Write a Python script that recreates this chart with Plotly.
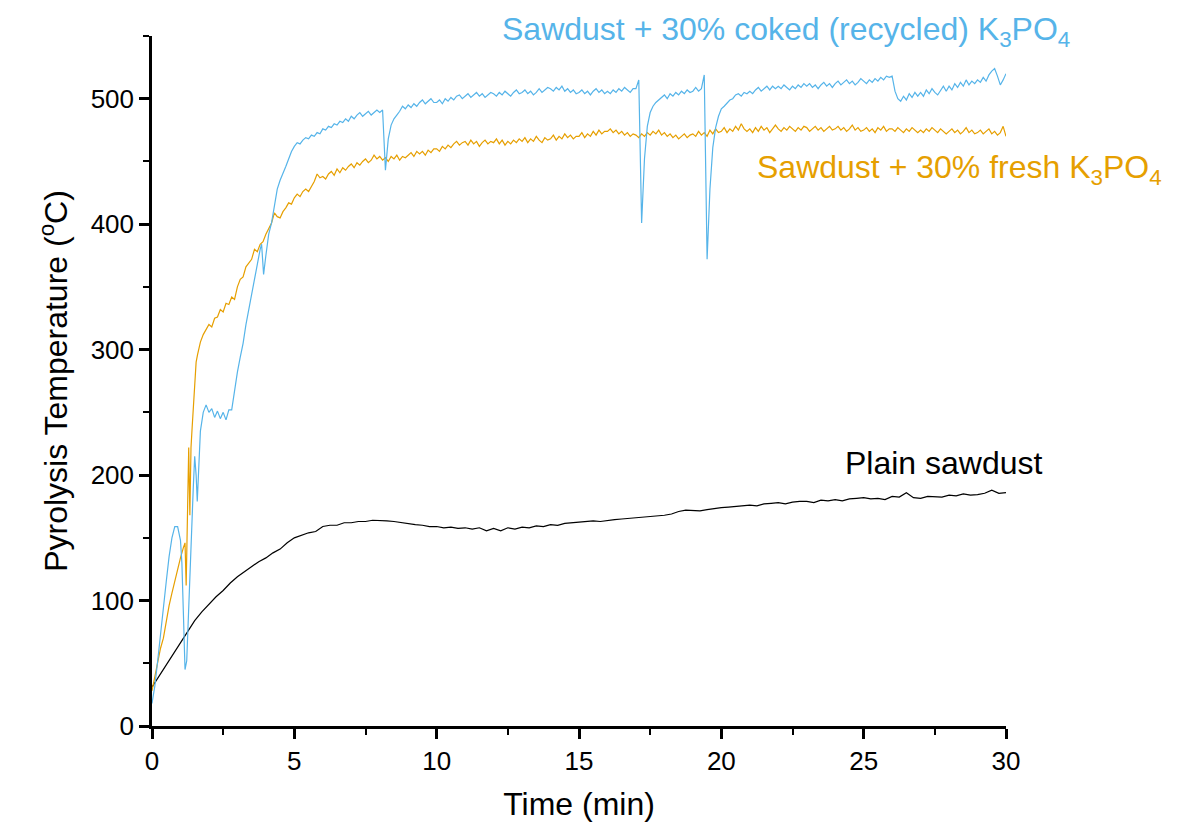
import plotly.graph_objects as go

# ---- Sawdust + 30% coked (recycled) K3PO4 : start-up phase (irregular sampling)
coked_time_start = [0.0, 0.1, 0.2, 0.3, 0.4, 0.5, 0.6, 0.7, 0.8, 0.9, 1.0,
                    1.05, 1.1, 1.16, 1.22, 1.28, 1.34, 1.4, 1.45, 1.5, 1.55, 1.59, 1.64,
                    1.7, 1.8, 1.9, 2.0, 2.1, 2.2, 2.3, 2.4, 2.5, 2.6, 2.7, 2.8, 2.9, 3.0,
                    3.1, 3.2, 3.3, 3.4, 3.5, 3.6, 3.7, 3.8, 3.85, 3.92,
                    4.0, 4.1, 4.2, 4.3, 4.4, 4.5, 4.6, 4.7, 4.8, 4.9]
coked_temp_start = [18, 32, 52, 75, 96, 115, 135, 150, 159, 159, 148,
                    130, 92, 45, 52, 92, 128, 160, 190, 215, 200, 179, 205,
                    235, 250, 256, 250, 253, 246, 251, 245, 250, 244, 252, 252, 268, 282,
                    294, 305, 320, 332, 345, 358, 370, 380, 384, 360,
                    375, 392, 401, 415, 428, 435, 440, 446, 452, 458]

# ---- Sawdust + 30% fresh K3PO4 : start-up phase
fresh_time_start = [0.0, 0.1, 0.2, 0.3, 0.4, 0.5, 0.6, 0.7, 0.8, 0.9, 1.0, 1.1,
                    1.16, 1.2, 1.24, 1.29, 1.33, 1.37, 1.41, 1.46, 1.5, 1.55, 1.6,
                    1.7, 1.8, 1.9, 2.0, 2.1, 2.2, 2.3, 2.4, 2.5, 2.6, 2.7, 2.8, 2.9, 3.0,
                    3.1, 3.2, 3.3, 3.4, 3.5, 3.6, 3.7, 3.8, 3.9, 4.0, 4.1, 4.2, 4.3, 4.4,
                    4.5, 4.6, 4.7, 4.8, 4.9]
fresh_temp_start = [28, 40, 52, 62, 70, 84, 96, 106, 116, 126, 134, 142,
                    146, 112, 150, 222, 168, 222, 238, 258, 275, 290, 296,
                    306, 312, 316, 320, 318, 325, 326, 332, 330, 337, 336, 342, 340, 350,
                    356, 358, 366, 369, 372, 380, 378, 384, 386, 392, 396, 401, 409, 406,
                    405, 410, 413, 417, 416]

# ---- logger readings every 0.1 min from 5.0 to 30.0 min
steady_time = [round(5.0 + 0.1 * i, 1) for i in range(251)]

coked_temp_steady = [
    462, 465, 464, 467, 469, 468, 471, 470, 473, 472,
    476, 475, 478, 477, 480, 479, 482, 481, 484, 482,
    486, 484, 487, 489, 486, 488, 490, 487, 489, 491,
    489, 491, 443, 468, 479, 484, 487, 490, 494, 492,
    495, 493, 496, 494, 497, 499, 496, 498, 500, 497,
    497, 499, 496, 500, 498, 501, 499, 502, 503, 500,
    502, 504, 501, 503, 505, 502, 504, 501, 503, 505,
    504, 502, 505, 503, 506, 504, 502, 505, 507, 504,
    505, 507, 504, 506, 503, 505, 508, 505, 507, 509,
    508, 506, 509, 507, 510, 506, 508, 505, 507, 504,
    505, 507, 504, 506, 503, 506, 508, 505, 507, 504,
    506, 504, 507, 505, 508, 506, 509, 507, 505, 508,
    508, 515, 401, 452, 478, 489, 494, 497, 499, 501,
    503, 500, 504, 502, 505, 503, 506, 504, 507, 505,
    506, 509, 506, 508, 519, 372, 428, 461, 477, 486,
    492, 494, 497, 499, 500, 503, 504, 502, 505, 504,
    506, 504, 507, 509, 506, 508, 510, 507, 510, 508,
    510, 508, 511, 509, 507, 510, 508, 511, 509, 512,
    510, 512, 509, 511, 508, 511, 513, 510, 512, 509,
    512, 514, 511, 513, 515, 512, 514, 511, 513, 516,
    514, 512, 515, 513, 516, 514, 517, 515, 518, 517,
    518, 506, 500, 498, 502, 499, 504, 501, 505, 502,
    505, 502, 507, 504, 508, 505, 503, 507, 510, 506,
    510, 507, 512, 509, 513, 510, 515, 511, 514, 512,
    515, 513, 517, 514, 519, 522, 524, 518, 511, 515,
    520]

fresh_temp_steady = [
    421, 424, 422, 426, 428, 426, 430, 434, 440, 437,
    438, 436, 440, 442, 439, 444, 441, 445, 443, 446,
    448, 445, 449, 447, 450, 452, 449, 451, 455, 452,
    454, 451, 453, 450, 454, 452, 455, 451, 454, 453,
    455, 457, 454, 458, 456, 458, 455, 459, 457, 460,
    460, 458, 462, 460, 463, 461, 464, 466, 463, 465,
    466, 463, 467, 464, 466, 462, 465, 467, 464, 466,
    465, 468, 464, 467, 463, 466, 464, 467, 465, 468,
    466, 469, 465, 468, 466, 470, 467, 465, 469, 467,
    468, 471, 467, 470, 468, 472, 469, 471, 468, 470,
    470, 473, 469, 472, 470, 474, 471, 475, 472, 474,
    474, 476, 473, 475, 472, 474, 471, 473, 470, 472,
    471, 469, 472, 470, 473, 471, 474, 472, 475, 471,
    473, 470, 472, 469, 471, 468, 470, 472, 469, 471,
    472, 470, 474, 471, 473, 470, 475, 472, 476, 473,
    474, 477, 473, 476, 474, 478, 475, 480, 476, 474,
    476, 473, 477, 474, 478, 475, 477, 473, 476, 479,
    476, 474, 477, 475, 478, 476, 474, 477, 475, 478,
    477, 474, 476, 478, 475, 477, 474, 476, 478, 475,
    476, 478, 475, 477, 474, 476, 479, 475, 477, 474,
    475, 477, 474, 476, 473, 477, 475, 478, 474, 476,
    476, 474, 477, 475, 473, 476, 474, 477, 475, 473,
    475, 473, 476, 474, 477, 475, 473, 476, 474, 472,
    474, 476, 473, 475, 472, 474, 477, 473, 475, 472,
    473, 475, 472, 474, 476, 472, 474, 471, 473, 478,
    470]

# ---- Plain sawdust, readings every 0.25 min
plain_time = [round(0.25 * i, 2) for i in range(121)]
plain_temp = [
    31, 40, 49, 57, 67, 75, 84, 91, 97, 103,
    108, 114, 119, 123, 127, 131, 134, 138, 141, 146,
    150, 152, 154, 155, 159, 160, 160, 162, 162, 163,
    163, 164, 164, 163.5, 163, 162, 161, 160.5, 160, 159,
    159, 158, 158.5, 157.5, 158, 157, 158, 155.5, 157.5, 155.5,
    158, 157, 158.5, 158, 159.5, 159, 160.5, 160, 161.5, 162,
    162, 163, 163.5, 163, 164, 164.5, 165, 165.5, 166, 166,
    166.5, 167, 168, 169, 171, 172, 172, 171.5, 172.5, 173.5,
    174, 174.5, 175, 175.5, 176, 175.5, 177, 177.5, 178, 177,
    178.5, 179, 179, 178, 180, 179.5, 180.5, 179.5, 181, 181.5,
    182, 181, 181.5, 180.5, 183, 182.5, 186, 182, 181.5, 183,
    183, 182.5, 184, 183.5, 185, 184, 184.5, 185.5, 188, 185.5,
    186]

coked_time = coked_time_start + steady_time
coked_temp = coked_temp_start + coked_temp_steady
fresh_time = fresh_time_start + steady_time
fresh_temp = fresh_temp_start + fresh_temp_steady

BLUE = "#56B4E9"
ORANGE = "#E69F00"
FONT = "Liberation Sans, Arial, sans-serif"

fig = go.Figure()
fig.add_trace(go.Scatter(x=plain_time, y=plain_temp, mode="lines",
                         line=dict(color="black", width=1.2), name="Plain sawdust"))
fig.add_trace(go.Scatter(x=fresh_time, y=fresh_temp, mode="lines",
                         line=dict(color=ORANGE, width=1.2),
                         name="Sawdust + 30% fresh K3PO4"))
fig.add_trace(go.Scatter(x=coked_time, y=coked_temp, mode="lines",
                         line=dict(color=BLUE, width=1.2),
                         name="Sawdust + 30% coked (recycled) K3PO4"))

# curve labels, placed in paper coordinates (plot area spans 0..1)
label_font = 32
fig.add_annotation(x=0.4075, y=1.006, xref="paper", yref="paper",
                   xanchor="left", yanchor="middle",
                   text="Sawdust + 30% coked (recycled) K<sub>3</sub>PO<sub>4</sub>",
                   showarrow=False, font=dict(family=FONT, size=label_font, color=BLUE))
fig.add_annotation(x=0.706, y=0.806, xref="paper", yref="paper",
                   xanchor="left", yanchor="middle",
                   text="Sawdust + 30% fresh K<sub>3</sub>PO<sub>4</sub>",
                   showarrow=False, font=dict(family=FONT, size=label_font, color=ORANGE))
fig.add_annotation(x=0.809, y=0.381, xref="paper", yref="paper",
                   xanchor="left", yanchor="middle",
                   text="Plain sawdust",
                   showarrow=False, font=dict(family=FONT, size=label_font, color="black"))

axis_common = dict(showline=True, linecolor="black", linewidth=2.5, mirror=False,
                   ticks="outside", ticklen=10, tickwidth=2.5, tickcolor="black",
                   showgrid=False, zeroline=False,
                   tickfont=dict(family=FONT, size=26, color="black"))

fig.update_xaxes(range=[0, 30], dtick=5, tick0=0,
                 minor=dict(dtick=2.5, ticks="outside", ticklen=6, tickwidth=2, tickcolor="black"),
                 title=dict(text="Time (min)", font=dict(family=FONT, size=32), standoff=18),
                 **axis_common)
fig.update_yaxes(range=[0, 550], dtick=100, tick0=0,
                 minor=dict(dtick=50, ticks="outside", ticklen=6, tickwidth=2, tickcolor="black"),
                 title=dict(text="Pyrolysis Temperature (<sup>o</sup>C)",
                            font=dict(family=FONT, size=32), standoff=14),
                 **axis_common)

fig.update_layout(width=1195, height=831,
                  margin=dict(l=152, r=189, t=36, b=105, autoexpand=False),
                  plot_bgcolor="white", paper_bgcolor="white",
                  showlegend=False, font=dict(family=FONT, color="black"))

fig.write_html("out.html")
